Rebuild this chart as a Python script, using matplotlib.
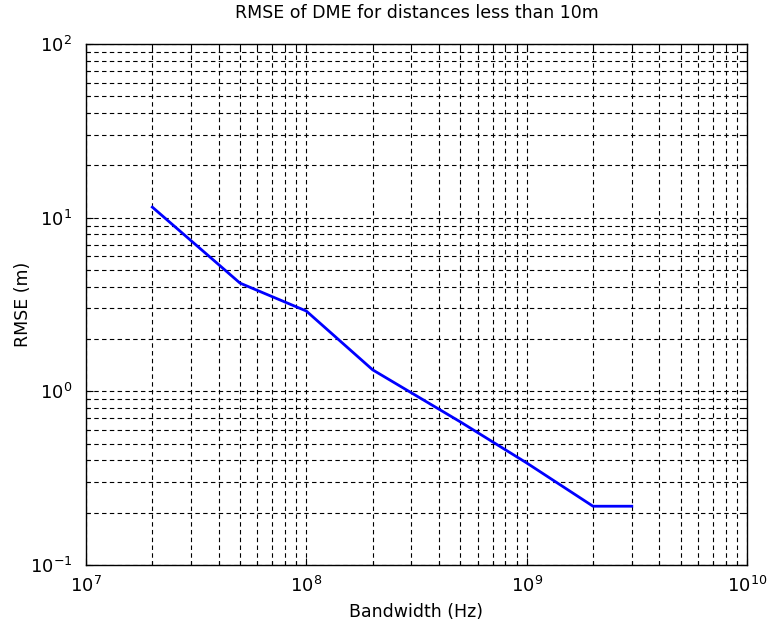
import numpy as np
import matplotlib.pyplot as plt
from matplotlib.ticker import LogLocator, FuncFormatter, NullFormatter

plt.rcParams['font.family'] = ['DejaVu Sans']

# data
bandwidth = [2e7, 5e7, 1e8, 2e8, 5e8, 1e9, 2e9, 3e9]
rmse = [11.5, 4.2, 2.9, 1.33, 0.667, 0.387, 0.218, 0.218]

fig = plt.figure(figsize=(7.67, 6.31), dpi=100)
ax = fig.add_axes([86 / 767, 66 / 631, 661 / 767, 521 / 631])

ax.plot(bandwidth, rmse, color='#0000ff', linewidth=2.0)
ax.set_xscale('log')
ax.set_yscale('log')
ax.set_xlim(1e7, 1e10)
ax.set_ylim(1e-1, 1e2)

ax.xaxis.set_major_locator(LogLocator(base=10, numticks=10))
ax.yaxis.set_major_locator(LogLocator(base=10, numticks=10))
ax.xaxis.set_minor_locator(LogLocator(base=10, subs=np.arange(2, 10), numticks=20))
ax.yaxis.set_minor_locator(LogLocator(base=10, subs=np.arange(2, 10), numticks=20))
fmt = FuncFormatter(lambda v, p: r'$\mathregular{10^{%d}}$' % round(np.log10(v)))
ax.xaxis.set_major_formatter(fmt)
ax.yaxis.set_major_formatter(fmt)
ax.xaxis.set_minor_formatter(NullFormatter())
ax.yaxis.set_minor_formatter(NullFormatter())

ax.grid(True, which='both', color='black', linestyle=(0, (4, 3)), linewidth=0.8)
ax.tick_params(which='both', direction='in', top=True, right=True, labelsize=13)
ax.tick_params(which='major', length=5, width=0.8)
ax.tick_params(axis='y', which='major', pad=10)
ax.tick_params(axis='x', which='major', pad=8)
ax.tick_params(which='minor', length=3, width=0.8)
for s in ax.spines.values():
    s.set_linewidth(1.0)

ax.set_title('RMSE of DME for distances less than 10m', fontsize=12.5, pad=19)
ax.set_xlabel('Bandwidth (Hz)', fontsize=12.5, labelpad=5)
ax.set_ylabel('RMSE (m)', fontsize=12.5, labelpad=-2)

fig.savefig('out.png', dpi=100)
